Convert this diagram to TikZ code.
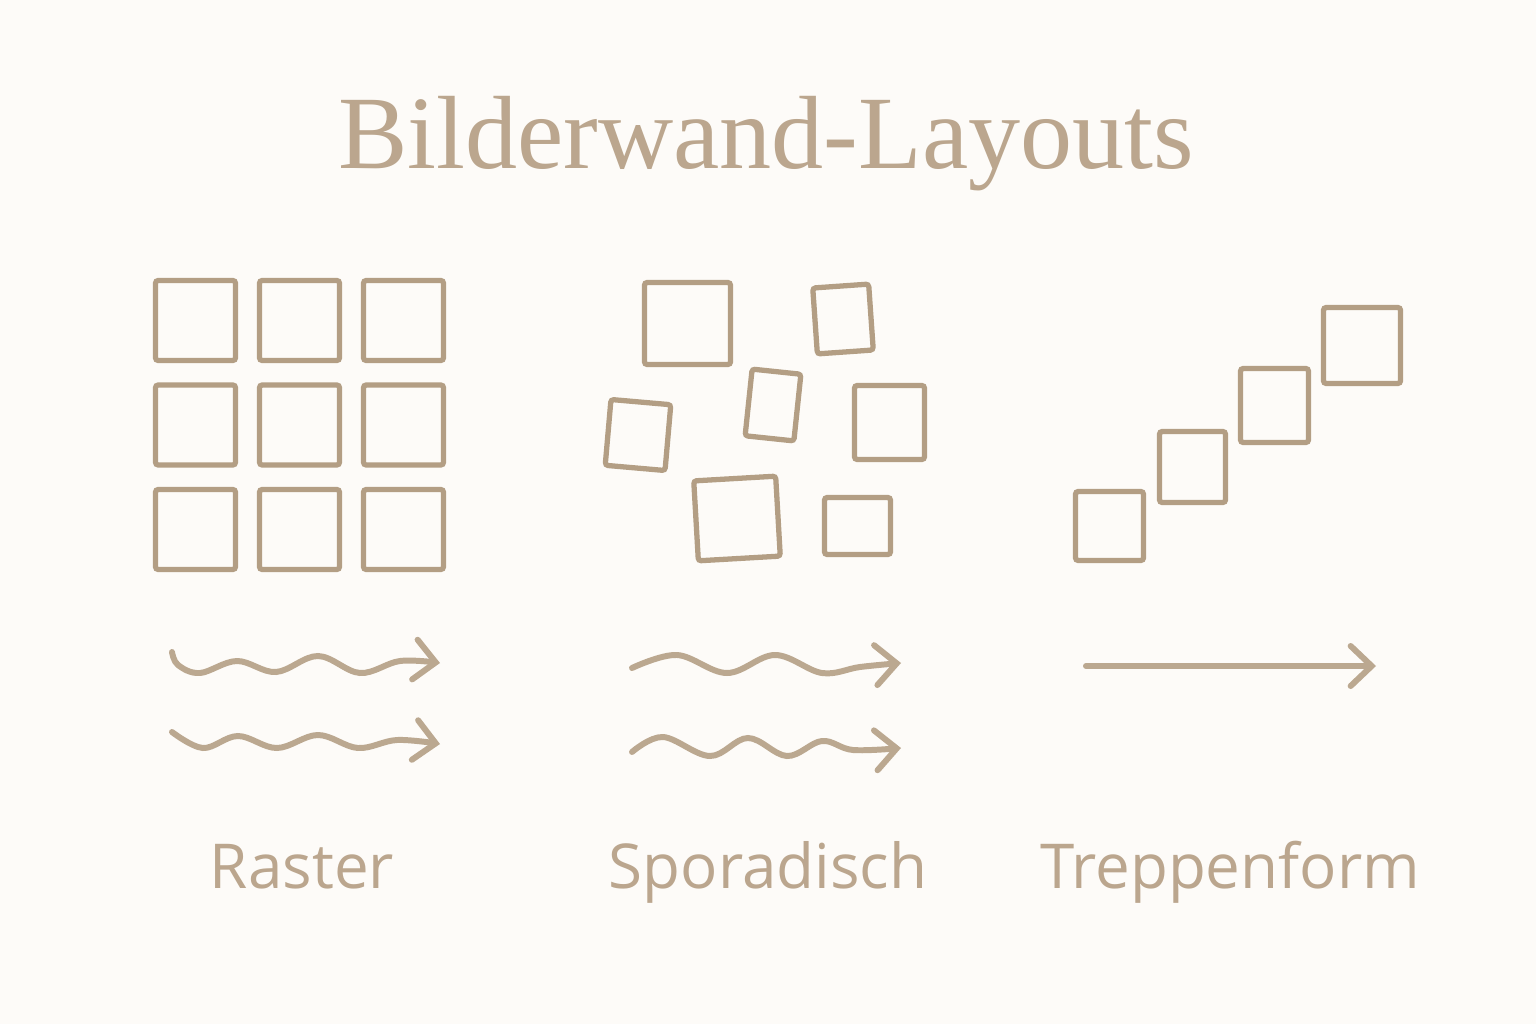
\documentclass[tikz,border=0pt]{standalone}
\usepackage{fontspec}
\usepackage{tikz}
\usetikzlibrary{arrows.meta}
\newfontfamily\titelfont{Liberation Serif}
\newfontfamily\labelfont{Open Sans}
\definecolor{wand}{HTML}{FDFBF8}
\definecolor{holz}{HTML}{B39E84}
\definecolor{schrift}{HTML}{BBA68E}

\tikzset{
	rahmen/.style={draw=holz, line width=1.5pt, rounded corners=0.8pt, inner sep=0pt, outer sep=0pt},
	welle/.style={draw=holz!90, line width=1.7pt, line cap=round, -{Straight Barb[length=2.1mm, width=4mm, line width=1.7pt, line cap=round]}},
	titel/.style={text=schrift, font=\titelfont\fontsize{29.6}{34}\selectfont, anchor=base},
	marke/.style={text=schrift, font=\labelfont\fontsize{17.6}{22}\selectfont, anchor=base}
}

\begin{document}
\begin{tikzpicture}[x=0.01cm, y=-0.01cm]
		\fill[wand] (0,0) rectangle (1536,1024);
		\useasboundingbox (0,0) rectangle (1536,1024);

		\node[titel] (titel) at (766,168) {Bilderwand-Layouts};

		% Raster
		\foreach \i in {0,1,2}
			\foreach \j in {0,1,2}
				\node[rahmen, minimum width=0.80cm, minimum height=0.80cm] (r\i\j) at ({195.5+104*\i},{320.5+104.5*\j}) {};

		% Sporadisch
		\node[rahmen, minimum width=0.86cm, minimum height=0.82cm] (sa) at (687.5,323.5) {};
		\node[rahmen, minimum width=0.56cm, minimum height=0.66cm, rotate=4] (sb) at (843,319) {};
		\node[rahmen, minimum width=0.49cm, minimum height=0.67cm, rotate=-6] (sc) at (773,405) {};
		\node[rahmen, minimum width=0.70cm, minimum height=0.74cm] (sd) at (889.5,422.5) {};
		\node[rahmen, minimum width=0.60cm, minimum height=0.66cm, rotate=-5] (se) at (638,435) {};
		\node[rahmen, minimum width=0.82cm, minimum height=0.80cm, rotate=3.3] (sf) at (737,518.5) {};
		\node[rahmen, minimum width=0.66cm, minimum height=0.57cm] (sg) at (857.5,526) {};

		% Treppenform
		\node[rahmen, minimum width=0.68cm, minimum height=0.69cm] (t1) at (1109.5,526) {};
		\node[rahmen, minimum width=0.66cm, minimum height=0.71cm] (t2) at (1192.5,467) {};
		\node[rahmen, minimum width=0.68cm, minimum height=0.74cm] (t3) at (1274.5,405.5) {};
		\node[rahmen, minimum width=0.77cm, minimum height=0.76cm] (t4) at (1362,345.5) {};

		% Pfeile
		\coordinate (ra1) at (172,652);
		\coordinate (rb1) at (440,663);
		\coordinate (ra2) at (172,732);
		\coordinate (rb2) at (440,744);
		\coordinate (sa1) at (632,668);
		\coordinate (sb1) at (901,663);
		\coordinate (sa2) at (632,752);
		\coordinate (sb2) at (901,748);
		\coordinate (ta) at (1086,666);
		\coordinate (tb) at (1376,666);

		\draw[welle] plot[smooth, tension=0.6] coordinates {(ra1) (178,665) (200,673) (237,661) (276,672) (318,656) (360,673) (400,661) (rb1)};
		\draw[welle] plot[smooth, tension=0.6] coordinates {(ra2) (203,748) (238,736) (277,748) (318,735) (358,748) (397,740) (rb2)};
		\draw[welle] plot[smooth, tension=0.6] coordinates {(sa1) (677,655) (727,673) (775,655) (822,673) (860,667) (sb1)};
		\draw[welle] plot[smooth, tension=0.6] coordinates {(sa2) (663,737) (710,756) (748,738) (787,756) (822,741) (853,750) (sb2)};
		\draw[welle] (ta) -- (tb);

		\node[marke] (raster) at (302,888) {Raster};
		\node[marke] (sporadisch) at (768,888) {Sporadisch};
		\node[marke] (treppe) at (1230,888) {Treppenform};

\end{tikzpicture}
\end{document}
